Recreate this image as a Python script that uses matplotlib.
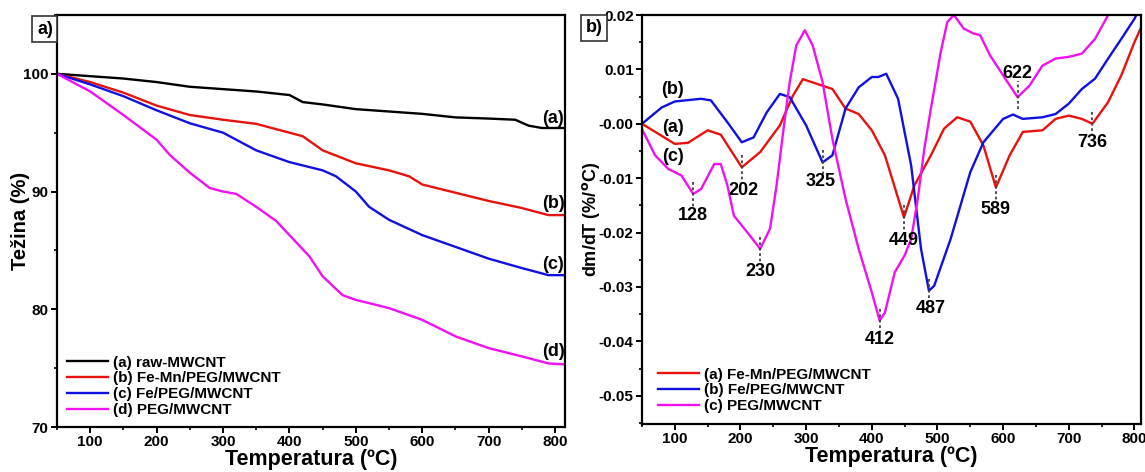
import matplotlib
matplotlib.use("Agg")
import matplotlib.pyplot as plt
from matplotlib.ticker import MultipleLocator

plt.rcParams['font.family'] = ['Liberation Sans', 'DejaVu Sans']
plt.rcParams['font.weight'] = 'bold'

# ---------------- Panel a) TGA ----------------
tga_labels = ["(a) raw-MWCNT", "(b) Fe-Mn/PEG/MWCNT", "(c) Fe/PEG/MWCNT", "(d) PEG/MWCNT"]
tga_colors = ["#000000", "#e8120c", "#1010e0", "#f010f0"]

t_raw = [50, 100, 150, 200, 250, 300, 350, 400, 420, 450, 500, 550, 600, 650, 700, 740, 760, 780, 800, 820]
w_raw = [100, 99.8, 99.6, 99.3, 98.9, 98.7, 98.5, 98.2, 97.6, 97.4, 97.0, 96.8, 96.6, 96.3, 96.2, 96.1, 95.6, 95.4, 95.4, 95.4]

t_femn = [50, 100, 150, 200, 250, 300, 350, 400, 420, 450, 500, 550, 580, 600, 650, 700, 750, 790, 820]
w_femn = [100, 99.3, 98.4, 97.3, 96.5, 96.1, 95.75, 95.0, 94.7, 93.5, 92.4, 91.8, 91.3, 90.6, 89.9, 89.2, 88.6, 88.0, 88.0]

t_fe = [50, 100, 150, 200, 250, 300, 350, 400, 450, 470, 500, 520, 550, 600, 650, 700, 750, 790, 820]
w_fe = [100, 99.1, 98.1, 96.9, 95.8, 95.0, 93.5, 92.5, 91.8, 91.3, 90.0, 88.7, 87.6, 86.3, 85.3, 84.3, 83.5, 82.9, 82.9]

t_peg = [50, 100, 150, 200, 220, 250, 280, 300, 320, 350, 380, 400, 430, 450, 480, 500, 550, 600, 650, 700, 750, 790, 820]
w_peg = [100, 98.5, 96.5, 94.4, 93.1, 91.6, 90.3, 90.0, 89.8, 88.7, 87.5, 86.3, 84.5, 82.8, 81.2, 80.8, 80.1, 79.1, 77.7, 76.7, 76.0, 75.4, 75.3]

tga_tags = ["(a)", "(b)", "(c)", "(d)"]
tga_tag_y = [96.2, 89.0, 83.8, 76.4]

# ---------------- Panel b) DTG ----------------
dtg_labels = ["(a) Fe-Mn/PEG/MWCNT", "(b) Fe/PEG/MWCNT", "(c) PEG/MWCNT"]
dtg_colors = ["#e8120c", "#1010e0", "#f010f0"]

dt_femn = [50, 100, 120, 150, 170, 202, 230, 260, 280, 295, 320, 340, 360, 380, 400, 420, 449, 465, 490, 510,
           530, 550, 570, 589, 610, 630, 660, 680, 700, 720, 736, 760, 780, 800, 815]
d_femn = [0.0, -0.0037, -0.0035, -0.0012, -0.002, -0.008, -0.0052, -0.0003, 0.0052, 0.0082, 0.0072, 0.0064,
          0.0028, 0.0018, -0.0012, -0.0058, -0.0172, -0.0113, -0.0058, -0.0009, 0.0012, 0.0004, -0.004, -0.0117,
          -0.0058, -0.0015, -0.0012, 0.0009, 0.0015, 0.0009, 0.0, 0.004, 0.0089, 0.015, 0.019]

dt_fe = [50, 80, 100, 140, 155, 180, 202, 220, 240, 260, 275, 300, 325, 340, 360, 380, 400, 410, 422, 440,
         460, 475, 487, 495, 520, 550, 570, 600, 615, 630, 660, 680, 700, 720, 740, 760, 780, 800, 815]
d_fe = [0.0, 0.003, 0.0041, 0.0046, 0.0043, 0.0003, -0.0034, -0.0025, 0.0021, 0.0055, 0.0049, -0.0003, -0.0071,
        -0.0058, 0.0028, 0.0067, 0.0086, 0.0086, 0.0092, 0.0046, -0.0077, -0.023, -0.0307, -0.0298, -0.0212,
        -0.0089, -0.0034, 0.0009, 0.0017, 0.0009, 0.0012, 0.0018, 0.0037, 0.0064, 0.0083, 0.012, 0.0156, 0.0193, 0.023]

dt_peg = [50, 70, 90, 110, 128, 140, 160, 170, 180, 190, 210, 230, 245, 255, 265, 275, 285, 298, 310, 325, 340,
          360, 380, 400, 412, 420, 435, 450, 460, 470, 480, 490, 505, 515, 525, 540, 555, 565, 580, 600, 622, 640,
          660, 680, 700, 720, 740, 760, 775]
d_peg = [-0.001, -0.0058, -0.0083, -0.0095, -0.0129, -0.012, -0.0074, -0.0074, -0.0113, -0.0169, -0.0199, -0.023,
         -0.0193, -0.0113, -0.0015, 0.0077, 0.0144, 0.0172, 0.0144, 0.0077, -0.0028, -0.0138, -0.023, -0.031,
         -0.0362, -0.0347, -0.0273, -0.0242, -0.0212, -0.0138, -0.0046, 0.0028, 0.0132, 0.0187, 0.0200, 0.0175,
         0.0166, 0.0163, 0.0126, 0.0089, 0.0049, 0.007, 0.0107, 0.012, 0.0123, 0.0129, 0.0156, 0.020, 0.025]

peak_temps = [128, 202, 230, 325, 412, 449, 487, 589, 622, 736]
peak_vals = [-0.0129, -0.008, -0.023, -0.0071, -0.0362, -0.0172, -0.0307, -0.0117, 0.0049, 0.0]
peak_label_y = [-0.0168, -0.0122, -0.0272, -0.0106, -0.0397, -0.0215, -0.0340, -0.0158, 0.0092, -0.0035]
peak_label_x = [128, 205, 230, 322, 412, 449, 490, 589, 622, 736]

dtg_tags = ["(b)", "(a)", "(c)"]
dtg_tag_y = [0.0063, -0.0006, -0.0061]

fig = plt.figure(figsize=(11.45, 4.72), dpi=100)
axA = fig.add_axes([0.0498, 0.0953, 0.4437, 0.873])
axB = fig.add_axes([0.5607, 0.1017, 0.4358, 0.8665])

lw = 1.7
for t, w, c, lab in zip([t_raw, t_femn, t_fe, t_peg], [w_raw, w_femn, w_fe, w_peg], tga_colors, tga_labels):
    axA.plot(t, w, color=c, lw=lw, label=lab)
for tag, y in zip(tga_tags, tga_tag_y):
    axA.text(797, y, tag, fontsize=13, fontweight='bold', ha='center', va='center', clip_on=False)

axA.set_xlim(50, 815)
axA.set_ylim(70, 105)
axA.xaxis.set_major_locator(MultipleLocator(100))
axA.xaxis.set_minor_locator(MultipleLocator(50))
axA.yaxis.set_major_locator(MultipleLocator(10))
axA.yaxis.set_minor_locator(MultipleLocator(5))
axA.set_xlabel("Temperatura (ºC)", fontsize=15.5, fontweight='bold', labelpad=0)
axA.set_ylabel("Težina (%)", fontsize=14.5, fontweight='bold', labelpad=-5)
axA.legend(loc='lower left', frameon=False, handlelength=2.7, handletextpad=0.3,
           labelspacing=0.12, borderaxespad=0.25, prop={'weight': 'bold', 'size': 11})

for c, t, d, lab in zip(dtg_colors, [dt_femn, dt_fe, dt_peg], [d_femn, d_fe, d_peg], dtg_labels):
    axB.plot(t, d, color=c, lw=lw, label=lab)

for px, pv, lx, ly in zip(peak_temps, peak_vals, peak_label_x, peak_label_y):
    start = pv - 0.0022 if ly > pv else pv + 0.0022
    end = ly + 0.0014 if ly < pv else ly - 0.0014
    axB.plot([px, px], [start, end], color='#404040', lw=1.3, ls=(0, (1.5, 1.5)))
    axB.text(lx, ly, str(px), fontsize=13, fontweight='bold', ha='center', va='center')

for tag, y in zip(dtg_tags, dtg_tag_y):
    axB.text(97, y, tag, fontsize=13, fontweight='bold', ha='center', va='center')

axB.set_xlim(50, 810)
axB.set_ylim(-0.0552, 0.02)
axB.xaxis.set_major_locator(MultipleLocator(100))
axB.xaxis.set_minor_locator(MultipleLocator(50))
axB.yaxis.set_major_locator(MultipleLocator(0.01))
axB.yaxis.set_minor_locator(MultipleLocator(0.005))
axB.yaxis.set_major_formatter(matplotlib.ticker.FuncFormatter(lambda v, p: f"{v:.2f}"))
axB.set_xlabel("Temperatura (ºC)", fontsize=15.5, fontweight='bold', labelpad=0)
axB.set_ylabel("dm/dT (%/$\\mathbf{^o}$C)", fontsize=13, fontweight='bold', labelpad=-2)
axB.legend(loc='lower left', frameon=False, handlelength=2.7, handletextpad=0.3,
           labelspacing=0.12, borderaxespad=0.3, bbox_to_anchor=(0.01, 0.0),
           prop={'weight': 'bold', 'size': 11})

for ax in (axA, axB):
    for s in ax.spines.values():
        s.set_linewidth(1.6)
    ax.tick_params(which='major', direction='out', length=4, width=1.4, labelsize=11, pad=2)
    ax.tick_params(which='minor', direction='out', length=2.5, width=1.2)
    for lbl in ax.get_xticklabels() + ax.get_yticklabels():
        lbl.set_fontweight('bold')

box = dict(boxstyle='square,pad=0.25', fc='white', ec='#333333', lw=1.2)
fig.text(37 / 1145, 1 - 29 / 472, "a)", fontsize=13, fontweight='bold', ha='left', va='center', bbox=box)
fig.text(586 / 1145, 1 - 28 / 472, "b)", fontsize=13, fontweight='bold', ha='left', va='center', bbox=box)

fig.savefig("out.png", dpi=100)
